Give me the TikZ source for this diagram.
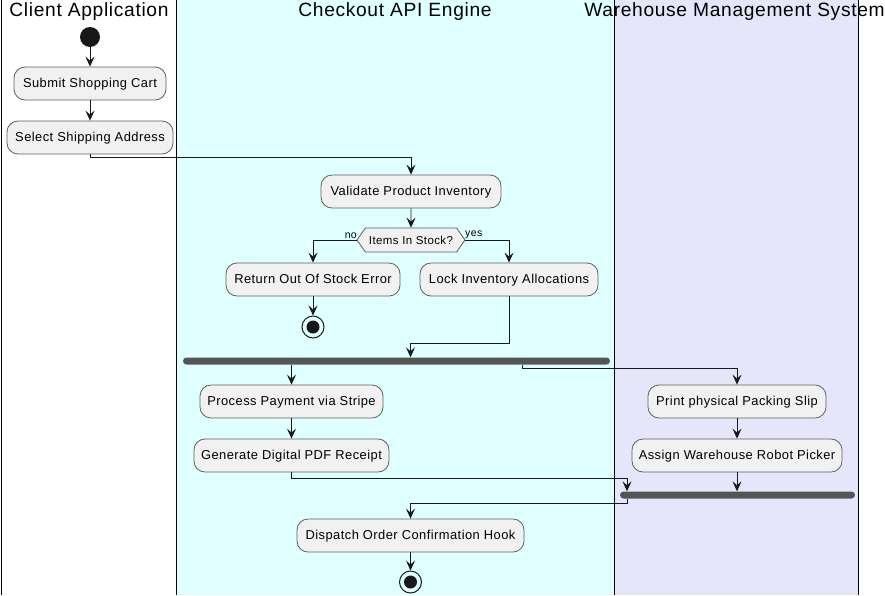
\documentclass[tikz,border=0pt]{standalone}
\usepackage{fontspec}
\setmainfont{Liberation Sans}
\newfontfamily\nodefont[LetterSpace=3.5]{Liberation Sans}
\usetikzlibrary{arrows.meta,shapes.symbols}
\definecolor{lanecyan}{HTML}{E0FFFF}
\definecolor{lanelav}{HTML}{E6E6FA}
\definecolor{boxfill}{HTML}{F1F1F1}
\definecolor{boxline}{HTML}{5F5F5F}
\definecolor{ink}{HTML}{181818}
\definecolor{barcol}{HTML}{555555}
\tikzset{
  act/.style={draw=boxline, fill=boxfill, rounded corners=11pt, minimum height=33pt,
    inner sep=0pt, font=\nodefont\fontsize{12.9}{14}\selectfont, line width=0.8pt,
    text height=9.5pt, text depth=2.5pt},
  decide/.style={draw=boxline, fill=boxfill, signal, signal to=west and east,
    signal pointer angle=110, minimum height=24pt, minimum width=108pt, inner sep=0pt,
    font=\nodefont\fontsize{11.5}{13}\selectfont, line width=0.8pt},
  conn/.style={draw=ink, line width=0.9pt, -{Stealth[length=10pt,width=9pt,inset=4pt]}},
  startnode/.style={circle, fill=ink, minimum size=20pt, inner sep=0pt},
  stopnode/.style={circle, draw=ink, line width=1pt, minimum size=22pt, inner sep=0pt,
    path picture={\fill[ink] (path picture bounding box.center) circle (6.5pt);}},
  syncbar/.style={fill=barcol, rounded corners=3.5pt, minimum height=7pt, inner sep=0pt},
  lanetitle/.style={font=\nodefont\fontsize{19.2}{22}\selectfont, inner sep=0pt},
  smalllabel/.style={font=\nodefont\fontsize{10.5}{12}\selectfont, inner sep=1pt},
  laneline/.style={draw=black, line width=1pt}
}
\begin{document}
\begin{tikzpicture}[x=1pt,y=-1pt]
\useasboundingbox (0,0) rectangle (885,595);
% lanes
\fill[lanecyan] (176,0) rectangle (614,595);
\fill[lanelav] (614,0) rectangle (858,595);
\draw[laneline] (1,0) -- (1,595);
\draw[laneline] (176,0) -- (176,595);
\draw[laneline] (614,0) -- (614,595);
\draw[laneline] (858,0) -- (858,595);
% titles
\node[lanetitle] (t1) at (89,12) {Client Application};
\node[lanetitle] (t2) at (395,12) {Checkout API Engine};
\node[lanetitle] (t3) at (734.5,12) {Warehouse Management System};
% nodes
\node[startnode] (start) at (90,37) {};
\node[act, minimum width=152pt] (submit) at (90,83.5) {Submit Shopping Cart};
\node[act, minimum width=166pt] (select) at (90,137.5) {Select Shipping Address};
\node[act, minimum width=180pt] (validate) at (411,191.5) {Validate Product Inventory};
\node[decide] (check) at (411,240) {Items In Stock?};
\node[act, minimum width=174pt] (return) at (313,279.5) {Return Out Of Stock Error};
\node[act, minimum width=178pt] (lock) at (509,279.5) {Lock Inventory Allocations};
\node[stopnode] (stop1) at (313,327) {};
\node[syncbar, minimum width=427pt] (fork) at (396.5,361) {};
\node[act, minimum width=183pt] (process) at (291.5,401.5) {Process Payment via Stripe};
\node[act, minimum width=195pt] (generate) at (291.5,455.5) {Generate Digital PDF Receipt};
\node[act, minimum width=178pt] (print) at (737,401.5) {Print physical Packing Slip};
\node[act, minimum width=210pt] (assign) at (737,455.5) {Assign Warehouse Robot Picker};
\node[syncbar, minimum width=235pt] (join) at (737.5,495) {};
\node[act, minimum width=227pt] (dispatch) at (410.5,535.5) {Dispatch Order Confirmation Hook};
\node[stopnode] (stop2) at (410.5,582) {};
% labels
\node[smalllabel, anchor=south east] (lno) at (358,239.5) {no};
\node[smalllabel, anchor=south west] (lyes) at (464,239.5) {yes};
% helper coordinates
\coordinate (y157) at (0,157);
\coordinate (y343) at (0,343);
\coordinate (x410) at (410.5,0);
\coordinate (x522) at (522,0);
\coordinate (x627) at (627,0);
% connectors
\draw[conn] (start) -- (submit);
\draw[conn] (submit) -- (select);
\draw[conn] (select.south) -- (select.south |- y157) -| (validate.north);
\draw[conn] (validate) -- (check);
\draw[conn] (check.west) -| (return.north);
\draw[conn] (check.east) -| (lock.north);
\draw[conn] (return) -- (stop1);
\draw[conn] (lock.south) -- (lock.south |- y343) -| (fork.north -| x410);
\draw[conn] (fork.south -| process) -- (process.north);
\draw[conn] (fork.south -| x522) -- ++(0,3.5) -| (print.north);
\draw[conn] (process) -- (generate);
\draw[conn] (print) -- (assign);
\draw[conn] (generate.south) -- ++(0,6) -| (join.north -| x627);
\draw[conn] (assign) -- (join.north -| assign);
\draw[conn] (join.south -| x627) -- ++(0,4.5) -| (dispatch.north);
\draw[conn] (dispatch) -- (stop2);
\end{tikzpicture}
\end{document}
